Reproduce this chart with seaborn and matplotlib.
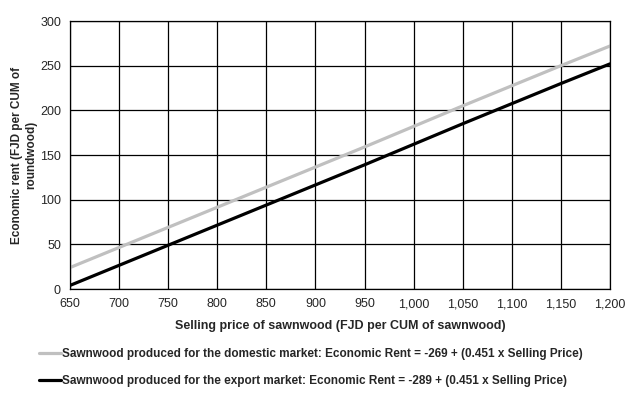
import pandas as pd
import matplotlib.pyplot as plt
import seaborn as sns
from matplotlib.ticker import FuncFormatter

# Values
selling_price = [650, 750, 850, 950, 1050, 1150, 1200]
domestic_rent = [24, 69, 114, 159, 205, 250, 272]
export_rent = [4, 49, 94, 139, 185, 230, 252]

domestic_label = "Sawnwood produced for the domestic market: Economic Rent = -269 + (0.451 x Selling Price)"
export_label = "Sawnwood produced for the export market: Economic Rent = -289 + (0.451 x Selling Price)"

df = pd.DataFrame({
    "price": selling_price * 2,
    "rent": domestic_rent + export_rent,
    "series": [domestic_label] * len(selling_price) + [export_label] * len(selling_price),
})

sns.set_style("white")
plt.rcParams["font.family"] = ["Liberation Sans", "DejaVu Sans"]

fig = plt.figure(figsize=(6.42, 3.94), dpi=100)
ax = fig.add_axes([70 / 642, 105 / 394, 540 / 642, 268 / 394])

sns.lineplot(data=df, x="price", y="rent", hue="series",
             palette={domestic_label: "#c0c0c0", export_label: "black"},
             linewidth=2.3, ax=ax, legend=False)

ax.set_xlim(650, 1200)
ax.set_ylim(0, 300)
ax.set_xticks(range(650, 1201, 50))
ax.set_yticks(range(0, 301, 50))
ax.xaxis.set_major_formatter(FuncFormatter(lambda v, p: f"{int(v):,}"))
ax.grid(True, color="black", linewidth=0.9)
ax.set_axisbelow(True)
for s in ax.spines.values():
    s.set_color("black")
    s.set_linewidth(0.9)
ax.tick_params(axis="both", direction="out", length=4, width=0.9, color="black",
               labelsize=9, pad=2.5)

ax.set_xlabel("Selling price of sawnwood (FJD per CUM of sawnwood)",
              fontsize=9, fontweight="bold", labelpad=7)
ax.set_ylabel("Economic rent (FJD per CUM of\nroundwood)",
              fontsize=8.5, fontweight="bold")
ax.yaxis.set_label_coords(-33 / 540, 0.5)

handles = [plt.Line2D([], [], color="#c0c0c0", linewidth=2.3),
           plt.Line2D([], [], color="black", linewidth=2.3)]
fig.legend(handles, [domestic_label, export_label], loc="upper left",
           bbox_to_anchor=(34 / 642, 1 - 343 / 394), frameon=False,
           prop={"size": 8.5, "weight": "bold"}, handlelength=1.9,
           handletextpad=0.05, labelspacing=1.3, borderaxespad=0)

fig.savefig("out.png", dpi=100)
